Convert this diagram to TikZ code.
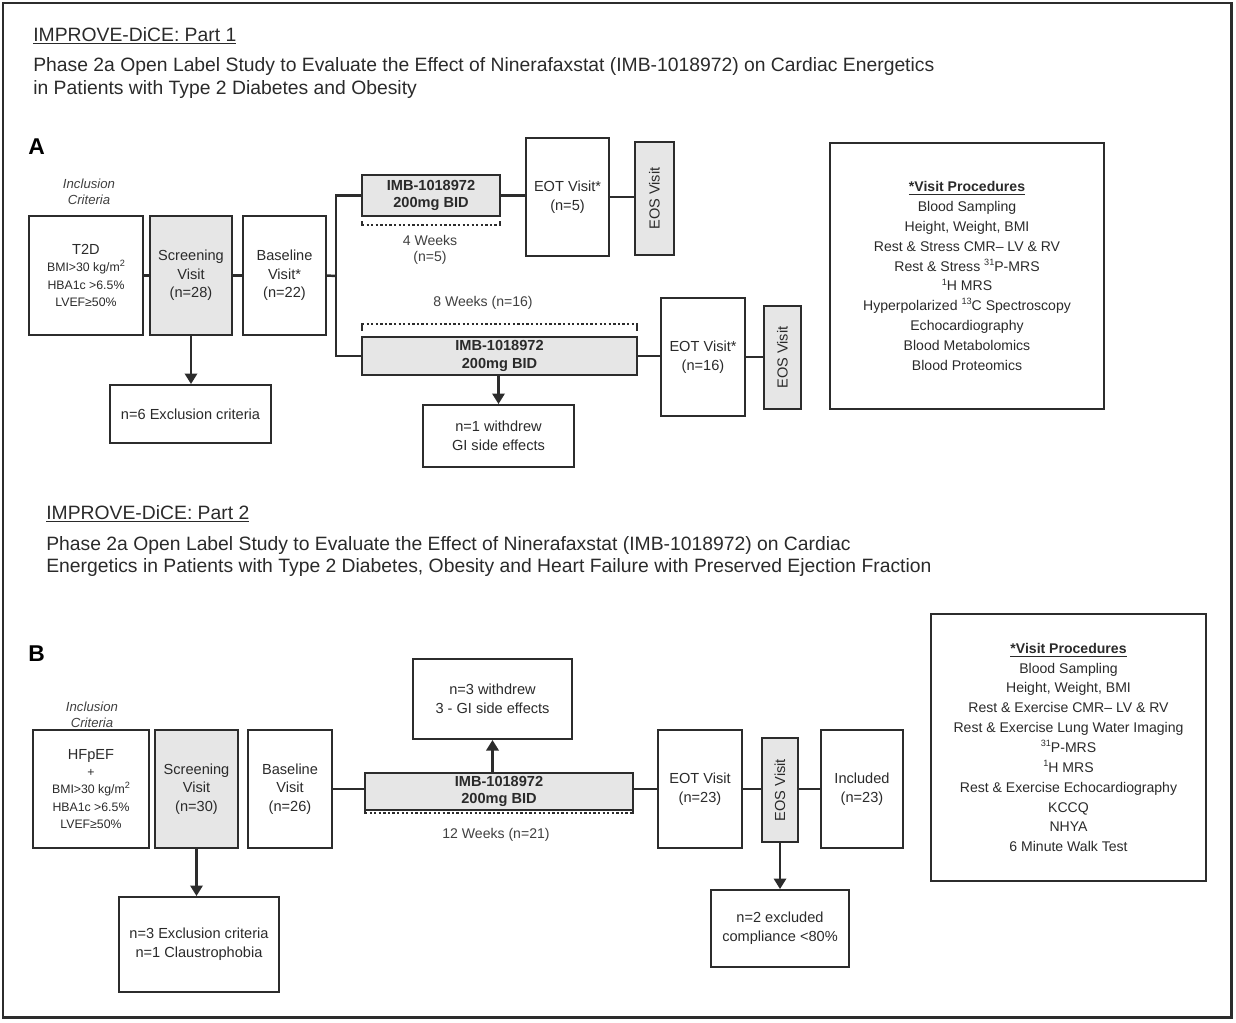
\documentclass[tikz,border=0pt]{standalone}
\usepackage{fontspec}
\usepackage{graphicx}
\setmainfont{Liberation Sans}
\usetikzlibrary{arrows.meta,calc}
\definecolor{tx}{HTML}{2A2A2A}
\definecolor{ln}{HTML}{2C2C2C}
\definecolor{fillg}{HTML}{E6E6E6}
\definecolor{lblc}{HTML}{404040}
\newcommand\spx[1]{\raisebox{0.42em}{\fontsize{5.2}{5.2}\selectfont #1}}
\newcommand\bx[7]{%
  \pgfmathsetmacro\bxw{(#4-#2)*0.02}%
  \pgfmathsetmacro\bxh{(#5-#3)*0.02}%
  \node[#6, minimum width=\bxw cm, minimum height=\bxh cm] (#1) at ({(#2+#4)/2},{(#3+#5)/2}) {#7};}
\begin{document}
\begin{tikzpicture}[x=0.02cm,y=-0.02cm,
  box/.style={draw=ln, line width=1.1pt, text=tx, align=center, inner sep=0pt, font=\fontsize{8.3}{10.6}\selectfont},
  gbox/.style={box, fill=fillg},
  bold/.style={font=\fontsize{8.3}{9.8}\selectfont\bfseries},
  crit/.style={box, font=\fontsize{7}{9.9}\selectfont},
  proc/.style={box, font=\fontsize{8}{11.3}\selectfont},
  conn/.style={draw=ln, line width=1.4pt},
  arr/.style={conn, -{Triangle[width=7pt,length=6pt]}},
  dotl/.style={draw=ln, line width=1.3pt, dash pattern=on 1.3pt off 1.3pt},
  tick/.style={draw=ln, line width=1pt},
  lbl/.style={text=lblc, font=\fontsize{8}{9.2}\selectfont, align=center},
  incl/.style={text=lblc, font=\fontsize{7.5}{9}\selectfont\itshape, align=center},
  ttl/.style={text=tx, anchor=west, inner sep=0pt, font=\fontsize{11}{13}\selectfont},
  panel/.style={text=black, anchor=west, inner sep=0pt, font=\fontsize{13}{14}\selectfont\bfseries}]
\useasboundingbox (0,0) rectangle (1236,1022);
\draw[draw=ln, line width=1.7pt] (3,3) rectangle (1231,1017);

% ---------- Part 1 titles ----------
\node[ttl] (h1) at (33,36) {\underline{IMPROVE-DiCE: Part 1}};
\node[ttl] (h1a) at (33,66) {Phase 2a Open Label Study to Evaluate the Effect of Ninerafaxstat (IMB-1018972) on Cardiac Energetics};
\node[ttl] (h1b) at (33,89) {in Patients with Type 2 Diabetes and Obesity};
\node[panel] (pa) at (28,147) {A};

% ---------- Part A ----------
\node[incl] (inA) at (89,192) {Inclusion\\Criteria};
\bx{tA}{29}{216}{143}{335}{crit}{{\fontsize{8.3}{9.9}\selectfont T2D}\\BMI>30 kg/m\spx{2}\\HBA1c >6.5\%\\LVEF≥50\%}
\bx{sA}{150}{216}{232}{335}{gbox}{Screening\\Visit\\(n=28)}
\bx{bA}{243}{216}{326}{335}{box}{Baseline\\Visit*\\(n=22)}
\bx{xA}{110}{385}{271}{443}{box}{n=6 Exclusion criteria}
\bx{iA1}{362}{175}{500}{216}{gbox,bold}{IMB-1018972\\200mg BID}
\bx{eA1}{526}{138}{609}{256}{box}{EOT Visit*\\(n=5)}
\bx{oA1}{635}{142}{674}{255}{gbox}{\rotatebox{90}{EOS Visit}}
\bx{iA2}{362}{337}{637}{375}{gbox,bold}{IMB-1018972\\200mg BID}
\bx{eA2}{661}{298}{745}{416}{box}{EOT Visit*\\(n=16)}
\bx{oA2}{764}{306}{801}{409}{gbox}{\rotatebox{90}{EOS Visit}}
\bx{wA}{423}{405}{574}{467}{box}{n=1 withdrew\\GI side effects}
\bx{pA}{830}{143}{1104}{409}{proc}{\textbf{\underline{*Visit Procedures}}\\Blood Sampling\\Height, Weight, BMI\\Rest \& Stress CMR– LV \& RV\\Rest \& Stress \spx{31}P-MRS\\\spx{1}H MRS\\Hyperpolarized \spx{13}C Spectroscopy\\Echocardiography\\Blood Metabolomics\\Blood Proteomics}

\coordinate (brA) at (336,276);
\draw[conn] (tA) -- (sA);
\draw[conn] (sA) -- (bA);
\draw[conn] (bA.east) -- (brA);
\draw[conn] (iA1.west) -| (brA) |- (iA2.west);
\draw[conn] (iA1.east) -- (iA1.east -| eA1.west);
\draw[conn] (eA1.east) -- (eA1.east -| oA1.west);
\draw[conn] (iA2.east) -- (iA2.east -| eA2.west);
\draw[conn] (eA2.east) -- (eA2.east -| oA2.west);
\draw[arr] (sA.south) -- (sA.south |- xA.north);
\draw[arr] (wA.north |- iA2.south) -- (wA.north);

\draw[dotl] (362,225) -- (500,225);
\draw[tick] (362,221) -- (362,226) (500,221) -- (500,226);
\node[lbl] (w4) at (430,250) {4 Weeks\\(n=5)};
\node[lbl] (w8) at (483,303) {8 Weeks (n=16)};
\draw[dotl] (362,324) -- (637,324);
\draw[tick] (362,323) -- (362,331) (637,323) -- (637,331);

% ---------- Part 2 titles ----------
\node[ttl] (h2) at (46,514) {\underline{IMPROVE-DiCE: Part 2}};
\node[ttl] (h2a) at (46,545) {Phase 2a Open Label Study to Evaluate the Effect of Ninerafaxstat (IMB-1018972) on Cardiac};
\node[ttl] (h2b) at (46,567) {Energetics in Patients with Type 2 Diabetes, Obesity and Heart Failure with Preserved Ejection Fraction};
\node[panel] (pb) at (28,654) {B};

% ---------- Part B ----------
\node[incl] (inB) at (92,715) {Inclusion\\Criteria};
\bx{tB}{33}{730}{149}{848}{crit}{{\fontsize{8.3}{9.9}\selectfont HFpEF}\\+\\BMI>30 kg/m\spx{2}\\HBA1c >6.5\%\\LVEF≥50\%}
\bx{sB}{155}{730}{238}{848}{gbox}{Screening\\Visit\\(n=30)}
\bx{bB}{248}{730}{332}{848}{box}{Baseline\\Visit\\(n=26)}
\bx{xB}{119}{897}{279}{992}{box}{n=3 Exclusion criteria\\n=1 Claustrophobia}
\bx{iB}{365}{773}{633}{810}{gbox,bold}{IMB-1018972\\200mg BID}
\bx{wB}{413}{659}{572}{739}{box}{n=3 withdrew\\3 - GI side effects}
\bx{eB}{658}{730}{742}{848}{box}{EOT Visit\\(n=23)}
\bx{oB}{762}{738}{798}{842}{gbox}{\rotatebox{90}{EOS Visit}}
\bx{nB}{821}{730}{903}{848}{box}{Included\\(n=23)}
\bx{xB2}{711}{890}{849}{967}{box}{n=2 excluded\\compliance <80\%}
\bx{pB}{931}{614}{1206}{881}{proc}{\textbf{\underline{*Visit Procedures}}\\Blood Sampling\\Height, Weight, BMI\\Rest \& Exercise CMR– LV \& RV\\Rest \& Exercise Lung Water Imaging\\\spx{31}P-MRS\\\spx{1}H MRS\\Rest \& Exercise Echocardiography\\KCCQ\\NHYA\\6 Minute Walk Test}

\draw[conn] (bB.east) -- (bB.east -| iB.west);
\draw[conn] (iB.east |- eB.west) -- (eB.west);
\draw[conn] (eB.east) -- (eB.east -| oB.west);
\draw[conn] (oB.east |- nB.west) -- (nB.west);
\draw[arr] (sB.south) -- (sB.south |- xB.north);
\draw[arr] (wB.south |- iB.north) -- (wB.south);
\draw[arr] (oB.south) -- (oB.south |- xB2.north);

\draw[dotl] (365,813) -- (633,813);
\draw[tick] (365,810) -- (365,814) (633,810) -- (633,814);
\node[lbl] (w12) at (496,835) {12 Weeks (n=21)};
\end{tikzpicture}
\end{document}
